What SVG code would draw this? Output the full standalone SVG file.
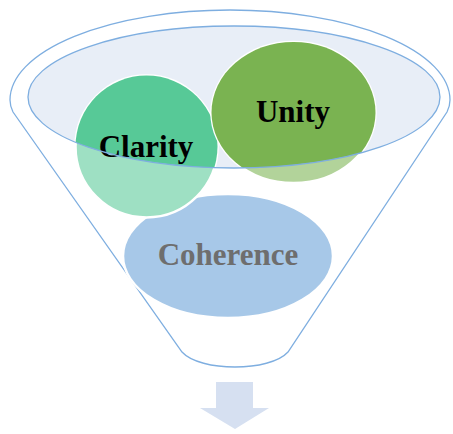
<svg xmlns="http://www.w3.org/2000/svg" width="453" height="434" viewBox="0 0 453 434">
  <style>
    .outline { fill: none; stroke: #7EAEE0; stroke-width: 1.3; }
    .rim { fill: #E8EEF7; }
    .ring { stroke: #FFFFFF; stroke-width: 2.5; }
    .label { font-family: "Liberation Serif", "Times New Roman", serif; font-weight: bold; font-size: 31px; text-anchor: middle; }
  </style>
  <defs>
    <!-- opening of the funnel: shapes inside it keep their full colour -->
    <clipPath id="mouth">
      <ellipse cx="234" cy="97" rx="206" ry="71"/>
    </clipPath>
  </defs>

  <!-- funnel body -->
  <g id="funnel">
    <path class="outline" d="M13,112 L182,352 C200,372 270,372 288,352 L447,112 Q450,106 450,100 A220,90 0 1 0 10,100 Q10,106 13,112 Z"/>
    <ellipse class="rim" cx="234" cy="97" rx="206" ry="71"/>
  </g>

  <g id="coherence">
    <ellipse cx="228" cy="256" rx="105" ry="62" fill="#A7C8E8" class="ring"/>
    <text class="label" x="228" y="265" fill="#6E6E6E">Coherence</text>
  </g>

  <g id="clarity">
    <circle cx="146.5" cy="146.5" r="71" fill="#9EE0C3" class="ring"/>
    <circle cx="146.5" cy="146.5" r="71" fill="#57C997" clip-path="url(#mouth)"/>
  </g>

  <g id="unity">
    <ellipse cx="293.5" cy="112.5" rx="82" ry="70.5" fill="#B2D39A" class="ring"/>
    <ellipse cx="293.5" cy="112.5" rx="82" ry="70.5" fill="#7AB351" clip-path="url(#mouth)"/>
  </g>

  <g id="labels">
    <text class="label" x="146" y="156.5" fill="#000000">Clarity</text>
    <text class="label" x="293" y="122" fill="#000000">Unity</text>
  </g>

  <!-- rim edge drawn over the contents -->
  <ellipse class="outline" cx="234" cy="97" rx="206" ry="71"/>

  <g id="connectors">
    <polygon points="216,382 253,382 253,408 269,408 235,429 200,408 216,408" fill="#D6E0F1"/>
  </g>
</svg>
